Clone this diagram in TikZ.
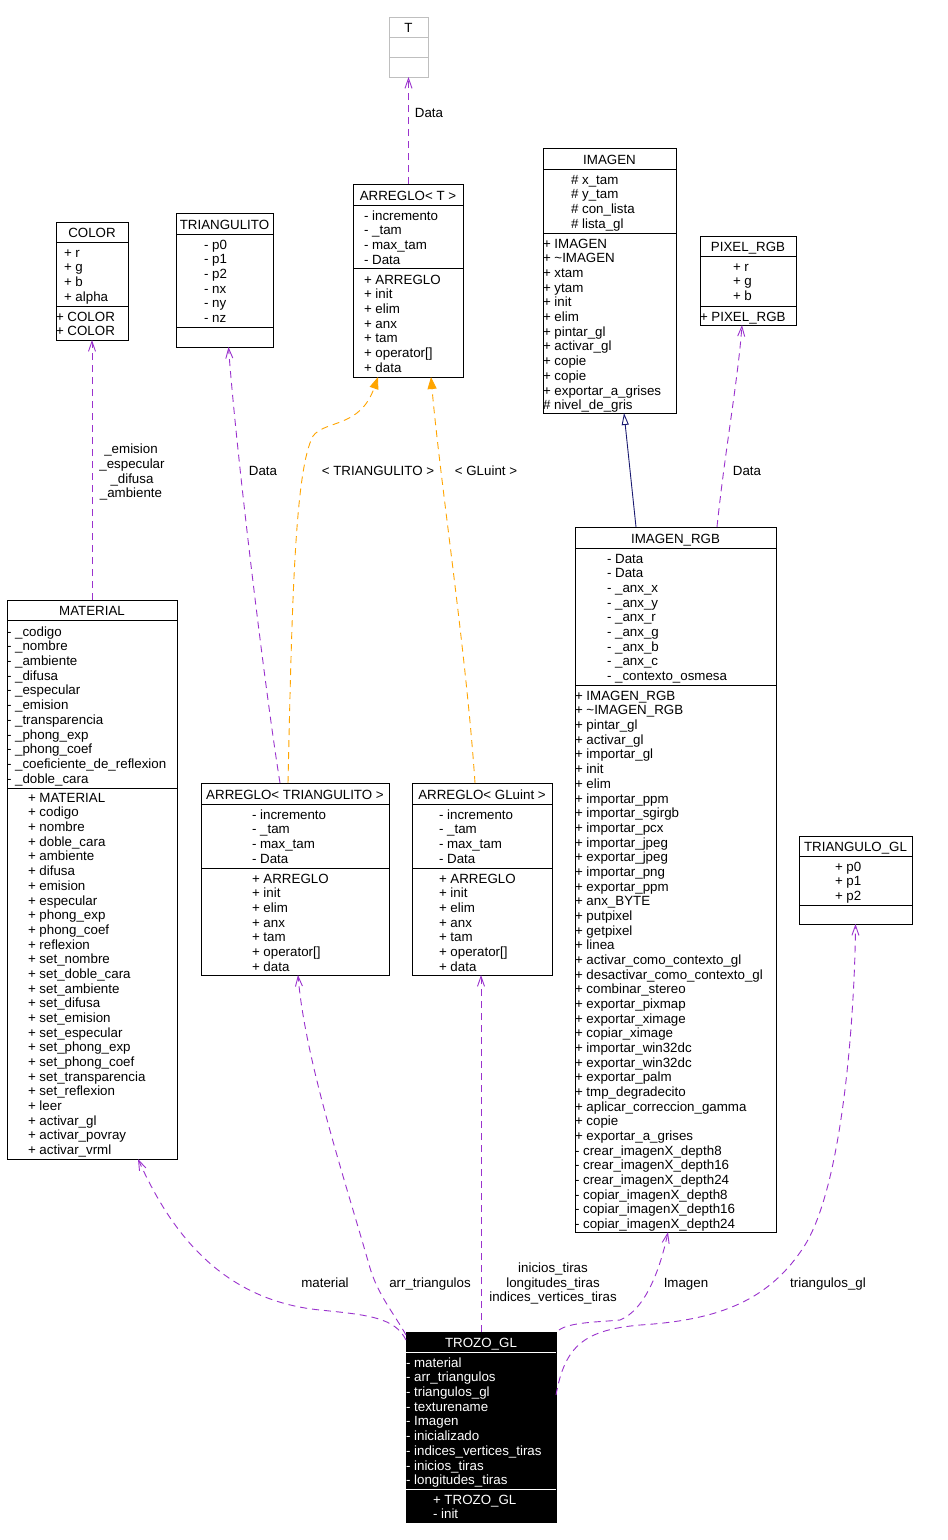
\documentclass[tikz,border=0pt]{standalone}
\usepackage{fontspec}
\setmainfont{Liberation Sans}
\usetikzlibrary{arrows.meta}
\definecolor{umlpurple}{HTML}{9A32CD}
\definecolor{umlorange}{HTML}{FFA500}
\definecolor{umlblue}{HTML}{191970}
\definecolor{umlgray}{HTML}{BFBFBF}
\newcommand\dfs{\fontsize{13.33}{14.67}\selectfont}
\tikzset{
  clsbox/.style={draw=black, line width=0.9pt, inner sep=0pt, outer sep=0pt, fill=white},
  txt/.style={inner sep=0pt, outer sep=0pt, font=\dfs},
  usage/.style={draw=umlpurple, line width=0.9pt, dash pattern=on 7pt off 5pt, -{Straight Barb[length=10pt,width=7pt]}},
  tmpl/.style={draw=umlorange, line width=0.9pt, dash pattern=on 7pt off 5pt, -{Triangle[length=12pt,width=9pt,fill=umlorange]}},
  inherit/.style={draw=umlblue, line width=0.9pt, -{Triangle[open,length=12pt,width=7pt,fill=white]}},
  elabel/.style={txt, anchor=base}
}
% name, x1, y1, x2, y2, sepA, sepB, box style, separator colour
\newcommand\umlcls[9]{%
  \node[clsbox,#8,minimum width={(#4-#2)*1pt},minimum height={(#5-#3)*1pt}] (#1) at ({(#2+#4)/2},{(#3+#5)/2}) {};
  \draw[line width=0.9pt,#9] (#2,#6) -- (#4,#6);
  \draw[line width=0.9pt,#9] (#2,#7) -- (#4,#7);
}
% name, centre x, centre y, colour, title
\newcommand\umltitle[5]{\node[txt,anchor=base,text=#4] (#1) at (#2,{#3+5.3}) {#5};}
% prefix, left x, first centre y, colour, list
\newcommand\umlrows[5]{%
  \foreach \itm [count=\i] in {#5} {\node[txt,anchor=base west,text=#4] (#1-\i) at (#2,{#3+5.3+(\i-1)*14.67}) {\itm};}%
}
\begin{document}
\begin{tikzpicture}[x=1pt,y=-1pt]
\useasboundingbox[fill=white] (0,0) rectangle (948,1540);

% ---------- T ----------
\umlcls{T}{389}{17}{428}{77}{37}{57}{draw=umlgray}{umlgray}
\umltitle{T-h}{408.5}{27}{black}{T}

% ---------- ARREGLO< T > ----------
\umlcls{arrT}{353}{184}{463}{377}{205}{268}{}{black}
\umltitle{arrT-h}{408}{195}{black}{ARREGLO< T >}
\umlrows{arrT-a}{364}{215}{black}{- incremento, - \_tam, - max\_tam, - Data}
\umlrows{arrT-m}{364}{279}{black}{+ ARREGLO, + init, + elim, + anx, + tam, + operator[], + data}

% ---------- COLOR ----------
\umlcls{color}{56}{222}{128}{340}{242}{306}{}{black}
\umltitle{color-h}{92}{232}{black}{COLOR}
\umlrows{color-a}{64}{252}{black}{+ r, + g, + b, + alpha}
\umlrows{color-m}{56}{316}{black}{+ COLOR, + COLOR}

% ---------- TRIANGULITO ----------
\umlcls{tri}{176}{213}{273}{347}{234}{327}{}{black}
\umltitle{tri-h}{224.5}{224}{black}{TRIANGULITO}
\umlrows{tri-a}{204}{244}{black}{- p0, - p1, - p2, - nx, - ny, - nz}

% ---------- IMAGEN ----------
\umlcls{img}{543}{148}{676}{413}{169}{233}{}{black}
\umltitle{img-h}{609.5}{159}{black}{IMAGEN}
\umlrows{img-a}{571}{179}{black}{\# x\_tam, \# y\_tam, \# con\_lista, \# lista\_gl}
\umlrows{img-m}{543}{243}{black}{+ IMAGEN, + \textasciitilde IMAGEN, + xtam, + ytam, + init, + elim, + pintar\_gl, + activar\_gl, + copie, + copie, + exportar\_a\_grises, \# nivel\_de\_gris}

% ---------- PIXEL_RGB ----------
\umlcls{pix}{700}{236}{796}{325}{256}{306}{}{black}
\umltitle{pix-h}{748}{246}{black}{PIXEL\_RGB}
\umlrows{pix-a}{733}{266}{black}{+ r, + g, + b}
\umlrows{pix-m}{700}{316}{black}{+ PIXEL\_RGB}

% ---------- MATERIAL ----------
\umlcls{mat}{7}{600}{177}{1159}{620}{788}{}{black}
\umltitle{mat-h}{92}{610}{black}{MATERIAL}
\umlrows{mat-a}{7}{631}{black}{- \_codigo, - \_nombre, - \_ambiente, - \_difusa, - \_especular, - \_emision, - \_transparencia, - \_phong\_exp, - \_phong\_coef, - \_coeficiente\_de\_reflexion, - \_doble\_cara}
\umlrows{mat-m}{28}{797}{black}{+ MATERIAL, + codigo, + nombre, + doble\_cara, + ambiente, + difusa, + emision, + especular, + phong\_exp, + phong\_coef, + reflexion, + set\_nombre, + set\_doble\_cara, + set\_ambiente, + set\_difusa, + set\_emision, + set\_especular, + set\_phong\_exp, + set\_phong\_coef, + set\_transparencia, + set\_reflexion, + leer, + activar\_gl, + activar\_povray, + activar\_vrml}

% ---------- ARREGLO< TRIANGULITO > ----------
\umlcls{arrTri}{201}{783}{389}{975}{804}{868}{}{black}
\umltitle{arrTri-h}{295}{794}{black}{ARREGLO< TRIANGULITO >}
\umlrows{arrTri-a}{252}{814}{black}{- incremento, - \_tam, - max\_tam, - Data}
\umlrows{arrTri-m}{252}{878}{black}{+ ARREGLO, + init, + elim, + anx, + tam, + operator[], + data}

% ---------- ARREGLO< GLuint > ----------
\umlcls{arrG}{412}{783}{552}{975}{804}{868}{}{black}
\umltitle{arrG-h}{482}{794}{black}{ARREGLO< GLuint >}
\umlrows{arrG-a}{439}{814}{black}{- incremento, - \_tam, - max\_tam, - Data}
\umlrows{arrG-m}{439}{878}{black}{+ ARREGLO, + init, + elim, + anx, + tam, + operator[], + data}

% ---------- IMAGEN_RGB ----------
\umlcls{rgb}{575}{527}{776}{1232}{548}{685}{}{black}
\umltitle{rgb-h}{675.5}{538}{black}{IMAGEN\_RGB}
\umlrows{rgb-a}{607}{558}{black}{- Data, - Data, - \_anx\_x, - \_anx\_y, - \_anx\_r, - \_anx\_g, - \_anx\_b, - \_anx\_c, - \_contexto\_osmesa}
\umlrows{rgb-m}{575}{695}{black}{+ IMAGEN\_RGB, + \textasciitilde IMAGEN\_RGB, + pintar\_gl, + activar\_gl, + importar\_gl, + init, + elim, + importar\_ppm, + importar\_sgirgb, + importar\_pcx, + importar\_jpeg, + exportar\_jpeg, + importar\_png, + exportar\_ppm, + anx\_BYTE, + putpixel, + getpixel, + linea, + activar\_como\_contexto\_gl, + desactivar\_como\_contexto\_gl, + combinar\_stereo, + exportar\_pixmap, + exportar\_ximage, + copiar\_ximage, + importar\_win32dc, + exportar\_win32dc, + exportar\_palm, + tmp\_degradecito, + aplicar\_correccion\_gamma, + copie, + exportar\_a\_grises, - crear\_imagenX\_depth8, - crear\_imagenX\_depth16, - crear\_imagenX\_depth24, - copiar\_imagenX\_depth8, - copiar\_imagenX\_depth16, - copiar\_imagenX\_depth24}

% ---------- TRIANGULO_GL ----------
\umlcls{tgl}{799}{836}{912}{924}{856}{905}{}{black}
\umltitle{tgl-h}{855.5}{846}{black}{TRIANGULO\_GL}
\umlrows{tgl-a}{835}{866}{black}{+ p0, + p1, + p2}

% ---------- TROZO_GL ----------
\umlcls{trozo}{406}{1332}{556}{1522}{1352}{1489}{fill=black}{white}
\umltitle{trozo-h}{481}{1342}{white}{TROZO\_GL}
\umlrows{trozo-a}{406}{1362}{white}{- material, - arr\_triangulos, - triangulos\_gl, - texturename, - Imagen, - inicializado, - indices\_vertices\_tiras, - inicios\_tiras, - longitudes\_tiras}
\umlrows{trozo-m}{433}{1499}{white}{+ TROZO\_GL, - init}

% ---------- connectors ----------
\draw[usage] (arrT.north -| T.south) -- (T.south);
\node[elabel] (lbl-tdata) at (429,117.3) {Data};

\draw[usage] (mat.north) -- (color.south);
\node[elabel] (lbl-c1) at (131,453.3) {\_emision};
\node[elabel] (lbl-c2) at (132,468.3) {\_especular};
\node[elabel] (lbl-c3) at (132,483.3) {\_difusa};
\node[elabel] (lbl-c4) at (131,497.3) {\_ambiente};

\draw[usage] ([xshift=-15pt]arrTri.north) .. controls (265,690) and (236,450) .. ([xshift=4pt]tri.south);
\node[elabel] (lbl-tridata) at (263,475.3) {Data};

\draw[tmpl] ([xshift=-7pt]arrTri.north) .. controls (292,600) and (295,470) .. (313,436) .. controls (325,420) and (360,428) .. ([xshift=-30pt]arrT.south);
\node[elabel] (lbl-tri) at (378,475.3) {< TRIANGULITO >};

\draw[tmpl] ([xshift=-7pt]arrG.north) .. controls (466,650) and (440,480) .. ([xshift=23pt]arrT.south);
\node[elabel] (lbl-gl) at (486,475.3) {< GLuint >};

\draw[inherit] ([xshift=-39.5pt]rgb.north) -- ([xshift=14.5pt]img.south);

\draw[usage] ([xshift=41.5pt]rgb.north) .. controls (725,450) and (738,380) .. ([xshift=-6pt]pix.south);
\node[elabel] (lbl-pixdata) at (747,475.3) {Data};

\draw[usage] ([yshift=-8pt]trozo.north west) .. controls (395,1318) and (370,1315) .. (320,1310) .. controls (220,1300) and (170,1230) .. ([xshift=46pt]mat.south);
\node[elabel] (lbl-mat) at (325,1287.3) {material};

\draw[usage] ([yshift=-3pt]trozo.north west) .. controls (395,1315) and (378,1295) .. (370,1268) .. controls (345,1180) and (305,1060) .. ([xshift=3pt]arrTri.south);
\node[elabel] (lbl-arr) at (430,1287.3) {arr\_triangulos};

\draw[usage] (trozo.north) -- (trozo.north |- arrG.south);
\node[elabel] (lbl-g1) at (553,1272.3) {inicios\_tiras};
\node[elabel] (lbl-g2) at (553,1287.3) {longitudes\_tiras};
\node[elabel] (lbl-g3) at (553,1301.3) {indices\_vertices\_tiras};

\draw[usage] ([xshift=3pt,yshift=2pt]trozo.north east) .. controls (570,1322) and (600,1322) .. (620,1320) .. controls (645,1310) and (660,1270) .. ([xshift=-7.5pt]rgb.south);
\node[elabel] (lbl-img) at (686,1287.3) {Imagen};

\draw[usage] ([yshift=32pt]trozo.east) .. controls (565,1345) and (585,1330) .. (640,1325) .. controls (720,1320) and (770,1300) .. (805,1245) .. controls (845,1180) and (855,1000) .. (tgl.south);
\node[elabel] (lbl-tgl) at (828,1287.3) {triangulos\_gl};
\end{tikzpicture}
\end{document}
